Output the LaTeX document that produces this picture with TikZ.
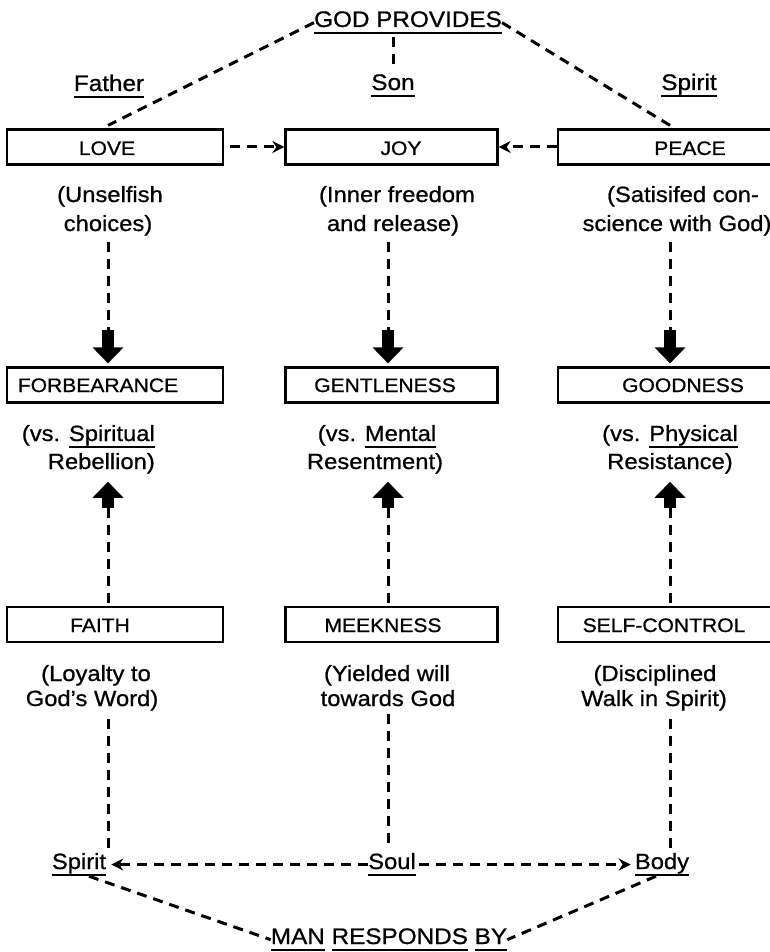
\documentclass[tikz,border=0pt]{standalone}
\usepackage{fontspec}
\setmainfont[FakeStretch=1.08,FakeBold=0.8]{Liberation Sans}
\usetikzlibrary{arrows.meta}
\newsavebox\ulbox
\newcommand\myul[1]{\sbox\ulbox{#1}\rlap{\rule[-7pt]{\wd\ulbox}{2pt}}\usebox\ulbox}
\begin{document}
\begin{tikzpicture}[x=1pt,y=-1pt,
  box/.style={draw,line width=2.2pt,minimum height=35pt,inner sep=0pt},
  lbl/.style={font=\fontsize{22.5}{26}\selectfont,inner sep=0pt,anchor=base},
  btxt/.style={font=\fontsize{19.5}{22}\selectfont,inner sep=0pt,anchor=base},
  sub/.style={font=\fontsize{22}{26}\selectfont,inner sep=0pt,anchor=base},
  dsh/.style={line width=3pt,dash pattern=on 10pt off 7pt},
  fat/.style={line width=12pt,-{Triangle[length=16pt,width=30pt]}},
  tip/.style={-{Stealth[length=12pt,width=12pt]}}]
\fill[white] (0,0) rectangle (770,952);
\useasboundingbox (0,0) rectangle (770,952);
% columns
\coordinate (cL) at (108,0);
\coordinate (cM) at (388,0);
\coordinate (cR) at (670,0);
% headings
\node[lbl] (god) at (408,27) {\myul{GOD PROVIDES}};
\node[lbl] (father) at (109,91) {\myul{Father}};
\node[lbl] (son) at (393,90) {\myul{Son}};
\node[lbl] (spiritT) at (689,90) {\myul{Spirit}};
% row 1
\node[box,minimum width=216pt] (bLove) at (115,147) {};
\node[box,minimum width=212pt] (bJoy) at (391.5,147) {};
\node[box,minimum width=222pt] (bPeace) at (669,147) {};
\node[btxt] (tLove) at (107,155) {LOVE};
\node[btxt] (tJoy) at (401,155) {JOY};
\node[btxt] (tPeace) at (690,155) {PEACE};
\node[sub] (aL1) at (110,202) {(Unselfish};
\node[sub] (aL2) at (108,231) {choices)};
\node[sub] (aM1) at (397,202) {(Inner freedom};
\node[sub] (aM2) at (393,231) {and release)};
\node[sub] (aR1) at (683,202) {(Satisifed con-};
\node[sub] (aR2) at (677,231) {science with God)};
% row 2
\node[box,minimum width=216pt] (bForb) at (115,385) {};
\node[box,minimum width=212pt] (bGent) at (391.5,385) {};
\node[box,minimum width=222pt] (bGood) at (669,385) {};
\node[btxt] (tForb) at (98,392) {FORBEARANCE};
\node[btxt] (tGent) at (385,392) {GENTLENESS};
\node[btxt] (tGood) at (683,392) {GOODNESS};
\node[sub,anchor=base east] (bL1) at (155,441) {(vs. \myul{Spiritual}};
\node[sub,anchor=base east] (bL2) at (155,469) {Rebellion)};
\node[sub] (bM1) at (377,441) {(vs. \myul{Mental}};
\node[sub] (bM2) at (375,469) {Resentment)};
\node[sub] (bR1) at (670,441) {(vs. \myul{Physical}};
\node[sub] (bR2) at (670,469) {Resistance)};
% row 3
\node[box,minimum width=216pt] (bFaith) at (115,624.5) {};
\node[box,minimum width=212pt] (bMeek) at (391.5,624.5) {};
\node[box,minimum width=222pt] (bSelf) at (669,624.5) {};
\node[btxt] (tFaith) at (100,632) {FAITH};
\node[btxt] (tMeek) at (383,632) {MEEKNESS};
\node[btxt] (tSelf) at (664,632) {SELF-CONTROL};
\node[sub] (cL1) at (96,681) {(Loyalty to};
\node[sub] (cL2) at (92,706) {God's Word)};
\node[sub] (cM1) at (387,681) {(Yielded will};
\node[sub] (cM2) at (388,706) {towards God};
\node[sub] (cR1) at (655,681) {(Disciplined};
\node[sub] (cR2) at (654,706) {Walk in Spirit)};
% bottom
\node[sub] (spiritB) at (79,869) {\myul{Spirit}};
\node[sub] (soul) at (392,869) {\myul{Soul}};
\node[sub] (body) at (662,869) {\myul{Body}};
\node[lbl] (man) at (389,944) {\myul{MAN} \myul{RESPONDS} \myul{BY}};
% arrow coordinates
\coordinate (dL) at (108,330);
\coordinate (dM) at (388,330);
\coordinate (dR) at (670,330);
\coordinate (uL) at (108,508);
\coordinate (uM) at (388,508);
\coordinate (uR) at (670,508);
% top connectors
\draw[dsh] (god.west) -- ([yshift=3pt]cL |- bLove.north);
\draw[dsh] (god.east) -- ([yshift=3pt]cR |- bPeace.north);
\draw[dsh,shorten <=3pt,shorten >=9pt] (son.north |- god.south) -- (son.north);
\draw[dsh,tip] ([xshift=6pt]bLove.east) -- (bJoy.west);
\draw[dsh,tip] (bPeace.west) -- (bJoy.east);
% down arrows
\draw[dsh,shorten <=6pt] (cL |- aL2.south) -- (dL);
\draw[dsh,shorten <=6pt] (cM |- aM2.south) -- (dM);
\draw[dsh,shorten <=6pt] (cR |- aR2.south) -- (dR);
\draw[fat,shorten >=3pt] (dL) -- (dL |- bForb.north);
\draw[fat,shorten >=3pt] (dM) -- (dM |- bGent.north);
\draw[fat,shorten >=3pt] (dR) -- (dR |- bGood.north);
% up arrows
\draw[fat,shorten >=8pt] (uL) -- (uL |- bL2.south);
\draw[fat,shorten >=8pt] (uM) -- (uM |- bM2.south);
\draw[fat,shorten >=8pt] (uR) -- (uR |- bR2.south);
\draw[dsh] (uL) -- (uL |- bFaith.north);
\draw[dsh] (uM) -- (uM |- bMeek.north);
\draw[dsh] (uR) -- (uR |- bSelf.north);
% lower connectors
\draw[dsh,shorten <=8pt,shorten >=4pt] (cL |- cL2.south) -- (cL |- spiritB.north);
\draw[dsh,shorten <=8pt,shorten >=4pt] (cM |- cM2.south) -- (cM |- soul.north);
\draw[dsh,shorten <=8pt,shorten >=4pt] (cR |- cR2.south) -- (cR |- body.north);
\draw[dsh,tip,shorten >=5pt] (soul.west) -- (spiritB.east);
\draw[dsh,tip,shorten <=3pt,shorten >=4pt] (soul.east) -- (body.west);
\draw[dsh] ([xshift=10pt]spiritB.south) -- (man.west);
\draw[dsh] ([xshift=-6pt]body.south) -- (man.east);
\end{tikzpicture}
\end{document}
